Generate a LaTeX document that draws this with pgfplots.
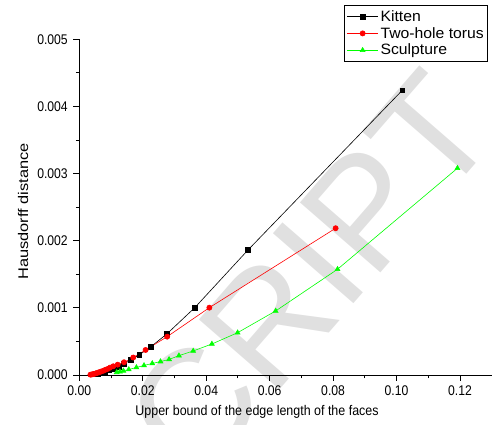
\documentclass[border=0pt]{standalone}
\usepackage{pgfplots}
\pgfplotsset{compat=1.18}
\usepackage{fontspec}
\setmainfont{Liberation Sans}
\newfontfamily\narrowfont{Liberation Sans}[FakeStretch=0.87]
\newfontfamily\xlabfont{Liberation Sans}[FakeStretch=0.89]
\newfontfamily\ylabfont{Liberation Sans}[FakeStretch=1.17]
\newfontfamily\legfont{Liberation Sans}[FakeStretch=1.05]
\definecolor{pgreen}{RGB}{0,255,0}
\definecolor{pred}{RGB}{255,0,0}
\begin{document}
\begin{tikzpicture}
\path[use as bounding box] (0,0) rectangle (492pt,425pt);
\begin{scope}
\clip (0,0) rectangle (492pt,425pt);
\node[rotate=49, text=black!12, font=\fontsize{155}{155}\selectfont, anchor=center] at (310pt,152pt) {CRIPT};
\end{scope}
\begin{axis}[
  at={(79.3pt,50pt)}, anchor=south west,
  scale only axis, width=412.4pt, height=335.7pt,
  xmin=0, xmax=0.13, ymin=0, ymax=0.005,
  axis x line*=bottom, axis y line*=left,
  axis line style={line width=0.9pt, -},
  tick align=outside,
  major tick length=6pt, minor tick length=3.5pt,
  every tick/.style={line width=0.9pt, black},
  xtick={0,0.02,...,0.121}, ytick={0,0.001,...,0.0051},
  minor x tick num=1, minor y tick num=1,
  scaled x ticks=false, scaled y ticks=false,
  xticklabel style={/pgf/number format/.cd, fixed, fixed zerofill, precision=2, assume math mode=true, /tikz/.cd, yshift=-1.5pt},
  yticklabel style={/pgf/number format/.cd, fixed, fixed zerofill, precision=3, assume math mode=true, /tikz/.cd, xshift=-2pt},
  ticklabel style={font=\narrowfont\fontsize{14}{16}\selectfont},
  xlabel={Upper bound of the edge length of the faces},
  ylabel={Hausdorff distance},
  xlabel style={font=\xlabfont\fontsize{14}{16}\selectfont, at={(axis description cs:0.431,-0.122)}, anchor=base},
  ylabel style={font=\ylabfont\fontsize{14}{16}\selectfont, at={(axis description cs:-0.136,0.487)}, anchor=center},
  legend style={at={(axis description cs:0.9918,1.101)}, anchor=north east,
    font=\legfont\fontsize{15}{17}\selectfont, draw=black, line width=0.9pt,
    inner xsep=2pt, inner ysep=2.5pt, row sep=0.5pt,
    legend image code/.code={\draw[mark repeat=2,mark phase=2] plot coordinates {(0cm,0cm) (0.55cm,0cm) (1.1cm,0cm)};}},
  legend cell align=left,
  clip=false,
]
\addplot[black, line width=0.6pt, mark=square*, mark size=2.4pt] coordinates {
(0.0053,0.000012) (0.0060,0.000022) (0.0069,0.000035) (0.0080,0.000050) (0.0093,0.000070)
(0.0107,0.000095) (0.0124,0.000120) (0.0141,0.000169) (0.0163,0.000224) (0.0189,0.000300)
(0.0226,0.000422) (0.0277,0.000616) (0.0364,0.001003) (0.0532,0.001863) (0.1018,0.004240)
};
\addlegendentry{Kitten}
\addplot[pred, line width=0.6pt, mark=*, mark size=2.6pt] coordinates {
(0.0035,0.000005) (0.0039,0.000008) (0.0043,0.000012) (0.0047,0.000017) (0.0052,0.000024)
(0.0057,0.000032) (0.0062,0.000040) (0.0068,0.000050) (0.0074,0.000060) (0.0081,0.000075)
(0.0089,0.000090) (0.0097,0.000110) (0.0107,0.000130) (0.0121,0.000154) (0.0141,0.000190)
(0.0170,0.000260) (0.0209,0.000373) (0.0277,0.000571) (0.0410,0.001003) (0.0808,0.002186)
};
\addlegendentry{Two-hole torus}
\addplot[pgreen, line width=0.6pt, mark=triangle*, mark size=2.8pt] coordinates {
(0.0118,0.000040) (0.0128,0.000050) (0.0139,0.000062) (0.0156,0.000082) (0.0180,0.000112)
(0.0204,0.000142) (0.0230,0.000172) (0.0256,0.000200) (0.0283,0.000232) (0.0314,0.000288)
(0.0359,0.000358) (0.0418,0.000462) (0.0499,0.000630) (0.0619,0.000954) (0.0814,0.001575)
(0.1192,0.003080)
};
\addlegendentry{Sculpture}
\end{axis}
\end{tikzpicture}
\end{document}
